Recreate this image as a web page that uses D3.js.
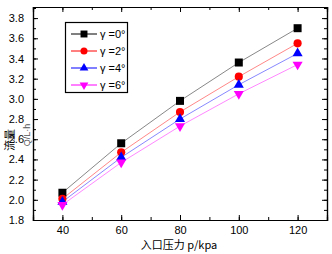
<!DOCTYPE html>
<html>
<head>
<meta charset="utf-8">
<script src="https://cdn.jsdelivr.net/npm/d3@7"></script>
<style>
body { margin: 0; background: #fff; }
text { font-family: "Liberation Sans", Arial, sans-serif; }
</style>
</head>
<body>
<div id="chart"></div>
<script>
var pressure = [40, 60, 80, 100, 120];
var q0 = [2.07, 2.56, 2.98, 3.36, 3.70];
var q2 = [2.01, 2.47, 2.87, 3.22, 3.55];
var q4 = [1.98, 2.42, 2.80, 3.14, 3.45];
var q6 = [1.95, 2.37, 2.73, 3.05, 3.34];
var seriesNames = ["γ =0°", "γ =2°", "γ =4°", "γ =6°"];
var xTicks = [40, 60, 80, 100, 120];
var yTicks = [1.8, 2.0, 2.2, 2.4, 2.6, 2.8, 3.0, 3.2, 3.4, 3.6, 3.8];

var width = 332, height = 254;
var m = {left: 33, right: 5, top: 7, bottom: 34};

var svg = d3.select("#chart").append("svg")
    .attr("width", width)
    .attr("height", height);

var x = d3.scaleLinear().domain([30, 130]).range([m.left, width - m.right]);
var y = d3.scaleLinear().domain([1.8, 3.91]).range([height - m.bottom, m.top]);

var series = [
    {name: seriesNames[0], values: q0, color: "#000", line: "#888", shape: d3.symbolSquare, size: 64, rot: 0},
    {name: seriesNames[1], values: q2, color: "#f00", line: "#f88", shape: d3.symbolCircle, size: 52, rot: 0},
    {name: seriesNames[2], values: q4, color: "#00f", line: "#88f", shape: d3.symbolTriangle, size: 44, rot: 0},
    {name: seriesNames[3], values: q6, color: "#f0f", line: "#f8f", shape: d3.symbolTriangle, size: 44, rot: 180}
];

// axes, ticks pointing inward
var xMinor = d3.range(30, 131, 10);
var yMinor = d3.range(18, 40).map(d => d / 10);

function addAxis(axis, tf, hideLabels) {
    var g = svg.append("g").attr("transform", tf).call(axis);
    g.select(".domain").attr("stroke", "#000").attr("stroke-width", 1.2);
    g.selectAll(".tick line").attr("stroke", "#000");
    g.selectAll("text").attr("font-size", 11).attr("fill", "#000");
    if (hideLabels) g.selectAll("text").remove();
    return g;
}

var bottomY = height - m.bottom, rightX = width - m.right;

addAxis(d3.axisBottom(x).tickValues(xMinor).tickSize(-3).tickFormat(""), "translate(0," + bottomY + ")", true);
addAxis(d3.axisTop(x).tickValues(xMinor).tickSize(-3).tickFormat(""), "translate(0," + m.top + ")", true);
addAxis(d3.axisLeft(y).tickValues(yMinor).tickSize(-3).tickFormat(""), "translate(" + m.left + ",0)", true);
addAxis(d3.axisRight(y).tickValues(yMinor).tickSize(-3).tickFormat(""), "translate(" + rightX + ",0)", true);

addAxis(d3.axisBottom(x).tickValues(xTicks).tickSize(-5).tickPadding(6).tickFormat(d3.format("d")), "translate(0," + bottomY + ")");
addAxis(d3.axisTop(x).tickValues(xTicks).tickSize(-5), "translate(0," + m.top + ")", true);
addAxis(d3.axisLeft(y).tickValues(yTicks).tickSize(-5).tickPadding(9).tickFormat(d3.format(".1f")), "translate(" + m.left + ",0)");
addAxis(d3.axisRight(y).tickValues(yTicks).tickSize(-5), "translate(" + rightX + ",0)", true);

// lines and markers
var line = d3.line().x((d, i) => x(pressure[i])).y(d => y(d));

series.forEach(function(s) {
    svg.append("path")
        .datum(s.values)
        .attr("fill", "none")
        .attr("stroke", s.line)
        .attr("stroke-width", 1)
        .attr("d", line);
});
series.forEach(function(s) {
    svg.selectAll(null)
        .data(s.values)
        .enter().append("path")
        .attr("d", d3.symbol().type(s.shape).size(s.size))
        .attr("fill", s.color)
        .attr("transform", (d, i) => "translate(" + x(pressure[i]) + "," + y(d) + ") rotate(" + s.rot + ")");
});

// legend
var lg = svg.append("g");
lg.append("rect")
    .attr("x", 65.5).attr("y", 22.5).attr("width", 62).attr("height", 70)
    .attr("fill", "#fff").attr("stroke", "#000").attr("stroke-width", 1.2);
series.forEach(function(s, i) {
    var yy = 34 + i * 17;
    lg.append("line").attr("x1", 71).attr("x2", 97).attr("y1", yy).attr("y2", yy)
        .attr("stroke", s.color).attr("stroke-width", 1);
    lg.append("path")
        .attr("d", d3.symbol().type(s.shape).size(s.size * 0.75))
        .attr("fill", s.color)
        .attr("transform", "translate(84," + yy + ") rotate(" + s.rot + ")");
    lg.append("text").attr("x", 100).attr("y", yy + 4)
        .attr("font-size", 11).text(s.name);
});

// axis titles
svg.append("text")
    .attr("x", (m.left + rightX) / 2 - 1).attr("y", 249)
    .attr("text-anchor", "middle")
    .attr("font-size", 11)
    .style("font-family", "'Noto Sans CJK SC', sans-serif")
    .text("入口压力 p/kpa");

svg.append("text")
    .attr("transform", "translate(14,140) rotate(-90)")
    .attr("text-anchor", "middle")
    .attr("font-size", 11)
    .style("font-family", "'Noto Sans CJK SC', sans-serif")
    .text("流量");

svg.append("text")
    .attr("transform", "translate(30,135) rotate(-90)")
    .attr("text-anchor", "middle")
    .attr("font-size", 9)
    .attr("fill", "#555")
    .text("Q/L·h");
</script>
</body>
</html>
